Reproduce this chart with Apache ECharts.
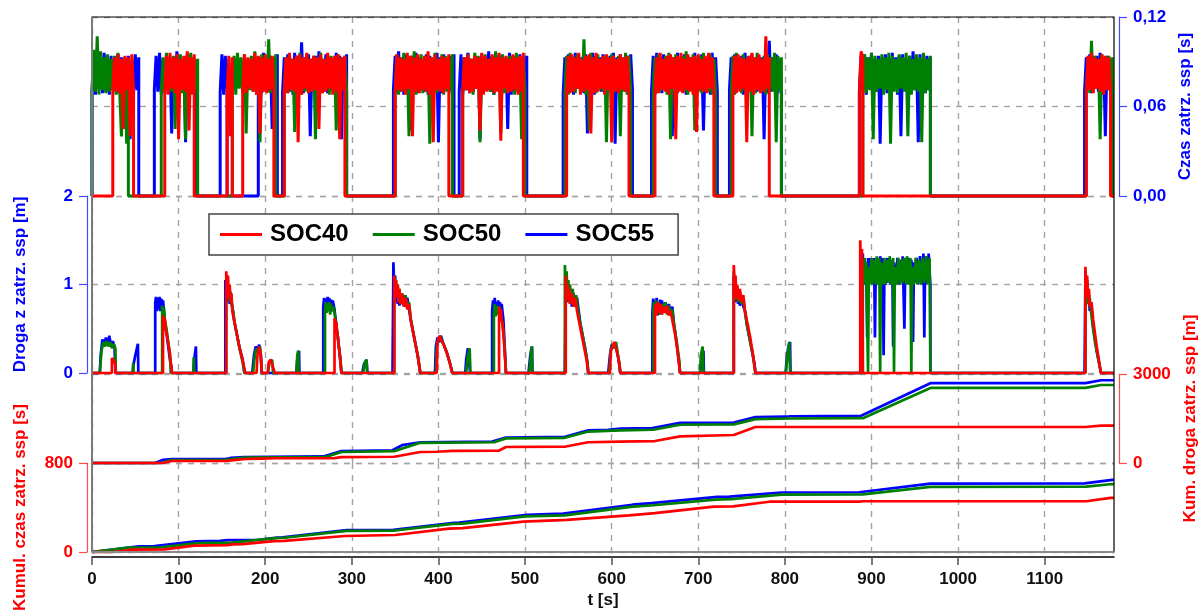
<!DOCTYPE html>
<html>
<head>
<meta charset="utf-8">
<script src="https://cdn.jsdelivr.net/npm/echarts@6/dist/echarts.min.js"></script>
<style>
html, body { margin: 0; padding: 0; background: #fff; }
#chart { width: 1204px; height: 614px; }
</style>
</head>
<body>
<div id="chart"></div>
<script>
const FONT = '"Liberation Sans", Arial, Helvetica, sans-serif';
const T_MAX = 1180;
const CZAS_STEP = 2; // seconds between samples of the stop-time signal

const tTicks = [0, 100, 200, 300, 400, 500, 600, 700, 800, 900, 1000, 1100];
const czasTicks = [0, 0.06, 0.12];
const drogaTicks = [0, 1, 2];
const kumDrogaTicks = [0, 3000];
const kumCzasTicks = [0, 800];

const seriesNames = ['SOC40', 'SOC50', 'SOC55'];
const seriesColors = { SOC40: '#ff0000', SOC50: '#008000', SOC55: '#0000ff' };

// Czas zatrz. ssp: active stretches as [start t (s), samples every CZAS_STEP s in ms]
const czasSOC55 = [
  [0,    [70,91,68,95,72,93,69,96,70,92,68,94,71,91,69,95,70,93,45,92,70,94,38,91,69,95,71,93]],
  [72,   [72,94,70,96,68,92,71,95,69,93,42,91,70,97,68,94,71,92,36,95,69,93,70,91,72]],
  [148,  [70,95,68,94,71]],
  [192,  [70,93,69,96,72,92,70,94,45,93,71,95]],
  [220,  [69,93,71,95,70,92,68,96,72,94,70,103,69,93,71,95,40,92,70,94,68,97,71,91,70,95,69,93,72,92,70,96,68,94,38,93,71,95]],
  [348,  [71,94,69,97,70,93,68,95,72,92,44,94,70,96,69,93,71,91,70,95,68,94,72,92,70,96,36,93,69,95,71,92,70,94,68,95]],
  [424,  [70,95,68,93,71,96,69,92,70,94,72,93,38,95,69,92,71,97,70,93,68,94,71,95,69,92,70,93,45,96,68,94,71,92,70,95,69,93,72,94]],
  [544,  [69,93,71,95,70,92,68,96,72,94,70,93,69,95,42,92,70,96,68,94,71,93,70,95,69,92,72,94,70,96,35,93,69,95,71,92,70,94,68,95,71]],
  [646,  [70,94,68,96,71,93,69,95,72,92,70,94,40,93,69,96,71,92,70,95,68,94,72,93,70,96,69,92,71,95,44,93,70,94,68,96,71,93,70]],
  [736,  [71,93,69,95,70,92,72,94,68,96,70,93,71,95,69,92,70,94,72,93,38,95,69,104,70,93,71,95,69,92,70]],
  [886,  [70,94,71,95,68,93,72,96,69,92,70,94,35,93,71,95,69,92,70,96,72,93,68,94,40,95,71,92,70,94,69,97,71,93,36,95,70,92,69,94,71,93]],
  [1146, [70,93,71,95,69,92,72,94,70,96,68,93,40,94,71,92,70]]
];
const czasSOC50 = [
  [0,    [72,98,70,107,68,97,71,93,69,95,70,92,72,94,68,96,70,40,69,93,35,91]],
  [80,   [70,93,69,96,72,92,70,94,45,93,71,95,69,91,38,94,70,96,68,93,71,92]],
  [162,  [70,94,68,96,72,93,69,95,42,92,71,94,70,97,68,93,36,95,71,92,70,105,69,93,72,95]],
  [222,  [71,93,69,95,70,92,43,94,71,96,68,93,70,95,69,92,72,94,38,93,70,96,69,92,71,95,68,94,70,93,44,95,69,92,71,94,70]],
  [350,  [70,95,68,93,71,96,69,92,40,94,70,97,68,93,71,95,69,92,72,94,35,93,70,96,69,92,71,95,68,94,70,93,72,95]],
  [428,  [69,93,71,95,70,92,68,96,72,94,36,93,69,95,71,92,70,94,68,97,71,93,42,95,69,92,70,94,72,93,68,96,70,92,38,94,71]],
  [546,  [70,94,68,96,71,93,69,95,72,92,70,105,68,94,44,96,70,93,69,95,71,92,70,94,36,93,72,95,69,92,71,94,40,93,70,96,68,94,70]],
  [648,  [71,93,69,95,70,92,72,94,68,96,38,93,70,95,69,92,71,94,70,97,68,93,72,95,44,92,70,94,69,96,71,93,70,95,68,92,71]],
  [738,  [70,94,68,96,72,93,69,95,71,92,70,94,40,93,69,96,71,92,70,94,68,95,72,93,70,96,36,94,71,93]],
  [890,  [70,95,69,93,71,96,38,94,70,92,72,95,68,93,71,96,35,94,70,92,69,95,72,93,70,96,40,94,68,92,71,95,70,93,36,96,69,92,71,94]],
  [1148, [71,93,69,104,70,94,72,92,38,95,69,93,71,94,70,93]]
];
const czasSOC40 = [
  [24,   [72,93,70,95,69,92,45,94,71,93,40,95,70]],
  [84,   [70,94,68,96,72,93,69,95,38,92,71,94,70,97,44,93,69,95]],
  [156,  [70,94,40,93]],
  [174,  [71,95,69,93,72,92,70,96,68,94,42,93,70,95,69,92,71,94,70]],
  [222,  [70,93,69,96,71,92,70,94,36,95,68,93,72,96,69,92,70,94,71,93,45,95,69,92,70,96,72,93,68,94,70,95,38,93,71,94]],
  [350,  [69,95,71,93,70,92,68,96,72,94,40,93,70,95,69,92,71,94,70,97,68,93,36,95,71,92,70,94,69,93,72,95]],
  [428,  [70,93,71,95,69,92,70,94,72,93,44,96,68,94,70,92,71,95,69,93,70,96,37,93,72,94,69,92,70,95,71,93,68,94,70,96]],
  [548,  [71,94,69,95,70,93,72,96,68,92,70,94,71,95,42,93,69,96,70,92,72,94,68,95,71,93,36,94,70,92,69,95,71,93,70,94,72]],
  [650,  [70,93,69,96,71,92,70,94,68,95,72,93,38,94,70,96,69,92,71,95,70,93,68,94,43,95,71,92,70,94,69,96,72,93,70]],
  [740,  [71,94,69,95,70,93,72,92,36,94,70,96,68,93,71,95,69,92,70,107,72,93]],
  [886,  [70,97,93]],
  [1148, [70,94,71,96,69,93,72,92,70,95,68,94,71,93,70]]
];

// Droga z zatrz. ssp [m]: [t (s), m]
const drogaSOC55 = [
  [0,0],[9,0],[10,0.2],[12,0.38],[14,0.3],[16,0.4],[18,0.33],[20,0.42],[22,0.3],[24,0.36],[26,0.3],[27,0],
  [47,0],[48,0.1],[50,0.2],[53,0.33],[53.5,0],
  [73,0],[73,0.8],[74,0.86],[75,0.7],[76,0.85],[77,0.72],[78,0.86],[79,0.7],[80,0.84],[81,0.75],[82,0.82],[84,0.6],[86,0.45],[88,0.3],[90,0.15],[92,0.05],[92,0],
  [117,0],[118,0.15],[120,0.3],[120.5,0],
  [154,0],[154,1.05],[155,0.85],[156,1.0],[157,0.8],[158,0.95],[159,0.78],[160,0.9],[162,0.75],[164,0.6],[167,0.45],[170,0.3],[174,0.15],[176,0],
  [185,0],[187,0.2],[189,0.3],[191,0.25],[193,0.32],[195,0.2],[196,0],
  [236,0],[237,0.15],[239,0.25],[239.5,0],
  [267,0],[267,0.75],[268,0.85],[269,0.7],[270,0.84],[271,0.72],[272,0.86],[273,0.7],[274,0.85],[275,0.73],[276,0.83],[277,0.7],[278,0.82],[280,0.72],[282,0.55],[284,0.4],[286,0.2],[288,0],
  [312,0],[314,0.1],[317,0.15],[318,0],
  [347,0],[348,1.25],[349,0.95],[350,1.1],[351,0.8],[352,0.95],[353,0.78],[354,0.92],[355,0.76],[356,0.9],[358,0.78],[360,0.88],[362,0.75],[364,0.85],[366,0.72],[368,0.6],[370,0.5],[373,0.35],[376,0.2],[379,0],
  [396,0],[397,0.3],[399,0.4],[401,0.35],[403,0.42],[405,0.35],[407,0.3],[410,0.22],[413,0.12],[416,0],
  [431,0],[432,0.15],[434,0.28],[436,0.3],[436.5,0],
  [462,0],[462,0.7],[463,0.82],[464,0.68],[465,0.85],[466,0.7],[467,0.8],[468,0.66],[469,0.82],[470,0.7],[471,0.8],[472,0.68],[473,0.78],[475,0.6],[476,0.4],[477,0.2],[478,0],
  [504,0],[506,0.2],[508,0.3],[508.5,0],
  [546,0],[547,1.1],[548,0.9],[549,1.05],[550,0.8],[551,1.0],[552,0.78],[553,0.95],[554,0.75],[556,0.9],[558,0.75],[560,0.85],[562,0.7],[564,0.55],[566,0.45],[569,0.3],[572,0.12],[573,0],
  [596,0],[598,0.2],[600,0.32],[602,0.28],[604,0.35],[606,0.25],[608,0.15],[610,0],
  [647,0],[647,0.68],[648,0.84],[649,0.66],[650,0.82],[651,0.7],[652,0.85],[653,0.65],[654,0.8],[655,0.68],[656,0.83],[657,0.7],[658,0.82],[660,0.68],[662,0.8],[664,0.7],[666,0.78],[668,0.68],[670,0.75],[672,0.55],[675,0.35],[677,0.18],[679,0],
  [702,0],[704,0.15],[706,0.25],[706.5,0],
  [741,0],[741,1.1],[742,0.9],[743,1.0],[744,0.8],[745,0.95],[746,0.78],[747,0.92],[748,0.76],[750,0.88],[752,0.75],[754,0.7],[756,0.55],[759,0.4],[762,0.25],[765,0.1],[766,0],
  [801,0],[802,0.15],[804,0.3],[806,0.35],[806.5,0],
  [888,0],[888,1.2],[889,1.0],[890,1.35],[891,1.05],[892,1.3],[893,1.0],[894,1.25],[895,0.4],[896,1.3],[897,1.0],[898,1.3],[899,1.05],[900,1.28],[902,1.0],[903,1.3],[904,0.4],[905,1.25],[906,1.0],[908,1.3],[909,1.0],[910,1.32],[912,1.0],[913,1.3],[914,0.2],[915,1.2],[916,1.0],[918,1.3],[919,1.02],[920,1.3],[922,1.0],[924,1.28],[925,0.3],[926,1.25],[928,1.0],[930,1.3],[932,1.0],[934,1.28],[935,1.02],[936,1.32],[938,0.5],[939,1.2],[940,1.0],[942,1.3],[944,1.0],[946,1.28],[948,0.35],[949,1.25],[950,1.02],[952,1.3],[954,1.0],[956,1.32],[958,1.0],[960,1.35],[961,0.4],[962,1.3],[964,1.0],[966,1.35],[968,1.0],[968,0],
  [1146,0],[1147,1.15],[1148,0.9],[1149,1.05],[1150,0.8],[1151,0.9],[1152,0.7],[1154,0.75],[1156,0.5],[1158,0.4],[1160,0.25],[1162,0.15],[1164,0.05],[1165,0],[1180,0]
];
const drogaSOC50 = [
  [0,0],[9,0],[11,0.25],[13,0.35],[15,0.3],[17,0.36],[19,0.3],[21,0.35],[23,0.28],[25,0.33],[27,0.28],[27.5,0],
  [47,0],[47.5,0.11],[48,0],
  [81,0],[81,0.76],[82,0.7],[83,0.74],[84,0.6],[86,0.5],[88,0.35],[90,0.2],[91,0],
  [117,0],[117.5,0.18],[118,0],
  [155,0],[155,0.95],[156,1.05],[157,0.85],[158,0.98],[159,0.8],[160,0.92],[161,0.78],[163,0.7],[165,0.55],[168,0.4],[171,0.25],[174,0.12],[176,0],
  [186,0],[188,0.2],[190,0.28],[192,0.22],[194,0.3],[196,0],
  [203,0],[205,0.12],[208,0.15],[209,0],
  [236,0],[237,0.2],[238,0.25],[238.5,0],
  [269,0],[269,0.7],[270,0.8],[271,0.68],[272,0.78],[273,0.7],[274,0.8],[275,0.66],[276,0.78],[277,0.7],[279,0.75],[281,0.6],[283,0.45],[285,0.3],[287,0.15],[288,0],
  [313,0],[315,0.12],[317,0.15],[317.5,0],
  [349,0],[349,1.1],[350,0.9],[351,1.05],[352,0.85],[353,1.0],[354,0.8],[355,0.95],[356,0.78],[358,0.9],[360,0.76],[362,0.88],[364,0.74],[366,0.8],[368,0.62],[371,0.45],[374,0.3],[377,0.15],[379,0],
  [397,0],[398,0.3],[400,0.38],[402,0.42],[404,0.36],[406,0.32],[409,0.25],[412,0.15],[415,0.05],[416,0],
  [432,0],[434,0.2],[436,0.28],[437,0],
  [464,0],[464,0.65],[465,0.78],[466,0.64],[467,0.76],[468,0.66],[470,0.75],[472,0.65],[474,0.55],[476,0.35],[478,0],
  [505,0],[507,0.25],[508,0.3],[508.5,0],
  [546,0],[546,1.22],[547,0.95],[548,1.15],[549,0.85],[550,1.05],[551,0.8],[552,1.0],[553,0.78],[555,0.95],[557,0.76],[559,0.88],[561,0.72],[563,0.6],[566,0.45],[569,0.3],[572,0.12],[573,0],
  [597,0],[599,0.25],[601,0.33],[603,0.28],[605,0.35],[607,0.22],[609,0.1],[610,0],
  [648,0],[648,0.7],[649,0.8],[650,0.66],[651,0.82],[652,0.68],[654,0.8],[656,0.66],[658,0.78],[660,0.7],[662,0.8],[664,0.66],[666,0.76],[668,0.68],[670,0.72],[672,0.55],[675,0.35],[678,0.15],[679,0],
  [702,0],[703,0.2],[705,0.3],[706,0],
  [741,0],[741,1.15],[742,0.92],[743,1.05],[744,0.82],[745,0.98],[746,0.8],[748,0.92],[750,0.78],[752,0.85],[754,0.68],[757,0.5],[760,0.35],[763,0.2],[766,0],
  [801,0],[803,0.2],[805,0.35],[806,0],
  [890,0],[890,1.2],[891,1.0],[892,1.3],[893,1.02],[894,1.25],[896,0],[897,1.2],[898,1.0],[900,1.3],[901,1.0],[903,1.28],[905,1.0],[906,1.32],[907,1.0],[909,1.3],[910,0],[911,1.25],[913,1.0],[915,1.3],[916,1.0],[918,1.28],[920,1.02],[921,1.32],[923,1.0],[925,1.3],[926,0],[927,1.2],[929,1.0],[931,1.3],[933,1.0],[935,1.28],[936,1.02],[938,1.3],[940,1.0],[941,1.32],[943,1.0],[945,1.3],[946,0],[947,1.2],[949,1.0],[951,1.3],[953,1.0],[955,1.28],[957,1.0],[959,1.3],[961,1.02],[963,1.32],[965,1.0],[967,1.3],[968,0],
  [1147,0],[1147,1.1],[1148,0.88],[1149,1.0],[1150,0.78],[1152,0.85],[1154,0.65],[1156,0.5],[1158,0.35],[1161,0.2],[1164,0.05],[1165,0],[1180,0]
];
const drogaSOC40 = [
  [0,0],[23,0],[23,0.17],[25,0.14],[27,0.1],[27,0],
  [82,0],[82,0.65],[83,0.58],[84,0.62],[85,0.5],[86,0.52],[87,0.4],[88,0.38],[89,0.28],[90,0.22],[91,0.12],[92,0.05],[92,0],
  [155,0],[155,1.15],[156,1.0],[157,1.1],[158,0.85],[159,1.0],[160,0.8],[161,0.9],[162,0.7],[164,0.6],[166,0.5],[168,0.4],[170,0.3],[173,0.18],[176,0.05],[177,0],
  [190,0],[191,0.2],[193,0.3],[195,0.2],[196,0],
  [203,0],[204,0.12],[206,0.15],[208,0.1],[211,0],
  [280,0],[280,0.62],[281,0.55],[282,0.58],[283,0.45],[284,0.4],[285,0.3],[286,0.22],[287,0.12],[288,0],
  [349,0],[349,1.1],[350,0.95],[351,1.05],[352,0.85],[353,1.0],[354,0.8],[355,0.95],[356,0.78],[358,0.9],[360,0.75],[362,0.85],[364,0.72],[366,0.78],[368,0.6],[370,0.5],[373,0.35],[376,0.2],[379,0],
  [398,0],[399,0.35],[401,0.42],[403,0.38],[405,0.4],[407,0.3],[410,0.22],[413,0.12],[416,0],
  [470,0],[470,0.75],[471,0.65],[472,0.72],[473,0.6],[474,0.55],[475,0.45],[476,0.3],[477,0.15],[478,0],
  [547,0],[547,1.1],[548,0.9],[549,1.0],[550,0.82],[551,0.95],[552,0.78],[554,0.9],[556,0.75],[558,0.85],[560,0.7],[562,0.6],[565,0.45],[568,0.3],[571,0.15],[573,0],
  [598,0],[599,0.25],[601,0.3],[603,0.35],[605,0.28],[607,0.2],[609,0.1],[610,0],
  [650,0],[650,0.7],[651,0.78],[652,0.65],[653,0.8],[654,0.68],[656,0.78],[658,0.66],[660,0.75],[662,0.68],[664,0.76],[666,0.65],[668,0.7],[670,0.6],[673,0.45],[676,0.25],[679,0],
  [741,0],[741,1.22],[742,1.0],[743,1.1],[744,0.85],[745,1.0],[746,0.82],[748,0.95],[750,0.8],[752,0.88],[754,0.7],[757,0.55],[760,0.4],[763,0.22],[766,0],
  [887,0],[887,1.5],[888,1.1],[889,1.4],[890,0],
  [1147,0],[1147,1.2],[1148,0.95],[1149,1.1],[1150,0.85],[1151,0.95],[1152,0.75],[1154,0.8],[1156,0.6],[1158,0.45],[1160,0.3],[1162,0.18],[1164,0.05],[1165,0],[1180,0]
];

// Kum. droga zatrz. ssp [m]: [t (s), m]
const kumDrogaSOC55 = [[0,0],[73,0],[82,110],[92,135],[154,135],[160,170],[176,200],[267,220],[288,400],[347,430],[358,600],[379,700],[462,720],[478,860],[546,880],[573,1100],[596,1120],[610,1160],[647,1180],[679,1350],[741,1360],[766,1550],[801,1560],[806,1575],[888,1590],[968,2690],[1147,2690],[1165,2790],[1180,2790]];
const kumDrogaSOC50 = [[0,0],[81,0],[91,100],[155,110],[176,180],[269,195],[288,370],[349,400],[379,680],[464,700],[478,830],[546,850],[573,1060],[610,1100],[648,1120],[679,1290],[741,1300],[766,1480],[806,1500],[890,1510],[968,2530],[1147,2530],[1165,2630],[1180,2630]];
const kumDrogaSOC40 = [[0,0],[82,0],[92,67],[155,70],[177,135],[196,150],[211,160],[280,165],[288,200],[349,210],[379,370],[398,380],[416,410],[470,420],[478,540],[547,555],[573,700],[610,720],[650,740],[679,900],[741,944],[766,1213],[1147,1213],[1165,1257],[1180,1257]];

// Kumul. czas zatrz. ssp [s]: [t (s), s]
const kumCzasSOC55 = [[0,0],[54,50],[72,52],[120,95],[148,100],[156,106],[192,110],[214,130],[220,132],[294,196],[348,200],[418,262],[424,265],[502,335],[544,345],[624,425],[646,440],[722,495],[736,498],[796,535],[886,537],[968,615],[1146,617],[1178,648],[1180,648]];
const kumCzasSOC50 = [[0,0],[42,40],[80,42],[122,80],[162,85],[212,125],[222,128],[294,190],[350,193],[416,252],[428,255],[500,320],[546,330],[622,405],[648,420],[720,470],[738,475],[796,515],[890,518],[968,585],[1148,587],[1178,611],[1180,611]];
const kumCzasSOC40 = [[0,0],[24,0],[48,22],[84,24],[118,58],[156,62],[162,68],[174,70],[210,98],[222,100],[292,144],[350,153],[412,210],[428,214],[498,273],[548,288],[620,330],[650,350],[718,408],[740,410],[782,452],[886,453],[890,456],[1148,456],[1176,486],[1180,486]];

function czasPoints(segments) {
  const pts = [[0, 0]];
  segments.forEach(([t0, samples]) => {
    const t1 = t0 + CZAS_STEP * (samples.length - 1);
    pts.push([t0, 0]);
    samples.forEach((ms, i) => pts.push([t0 + CZAS_STEP * i, ms / 1000]));
    pts.push([t1, 0]);
  });
  pts.push([T_MAX, 0]);
  return pts;
}

const panels = [
  { SOC55: czasPoints(czasSOC55), SOC50: czasPoints(czasSOC50), SOC40: czasPoints(czasSOC40) },
  { SOC55: drogaSOC55, SOC50: drogaSOC50, SOC40: drogaSOC40 },
  { SOC55: kumDrogaSOC55, SOC50: kumDrogaSOC50, SOC40: kumDrogaSOC40 },
  { SOC55: kumCzasSOC55, SOC50: kumCzasSOC50, SOC40: kumCzasSOC40 }
];

const PLOT_L = 92, PLOT_R = 1114, PLOT_T = 17, PLOT_B = 552;
const gridRows = [[17, 179], [196, 177], [374, 89], [463, 89]];
const BLUE = '#0000ff', BLUE_AX = '#4646ff', RED = '#ff0000', RED_AX = '#ff4a4a';
const gridDash = { color: '#a3a3a3', type: [6, 6], width: 1.4 };

function yAxis(gridIndex, position, ticks, color, lineColor, name, fmt) {
  return {
    type: 'value', gridIndex, position, offset: 5,
    min: ticks[0], max: ticks[ticks.length - 1], interval: ticks[1] - ticks[0],
    name, nameLocation: 'middle', nameRotate: 90, nameGap: 58,
    nameTextStyle: { color, fontSize: 17, fontWeight: 'bold', fontFamily: FONT },
    axisLine: { show: true, onZero: false, lineStyle: { color: lineColor, width: 1.2 } },
    axisTick: { show: true, length: 8, lineStyle: { color: lineColor, width: 1.2 } },
    axisLabel: { color, fontSize: 17, fontWeight: 'bold', fontFamily: FONT, margin: 14, formatter: fmt },
    splitLine: { show: true, lineStyle: gridDash }
  };
}

const xAxes = gridRows.map((r, i) => {
  const bottom = i === gridRows.length - 1;
  return {
    type: 'value', gridIndex: i, min: 0, max: T_MAX, interval: 100,
    axisLine: { show: bottom, onZero: false, lineStyle: { color: '#000', width: 1.5 } },
    offset: bottom ? 5 : 0,
    axisTick: { show: bottom, length: 8, customValues: tTicks, lineStyle: { color: '#555', width: 1.5 } },
    axisLabel: { show: bottom, customValues: tTicks, formatter: v => String(v), color: '#111', fontSize: 17, fontWeight: 'bold', fontFamily: FONT, margin: 14 },
    splitLine: { show: true, lineStyle: gridDash },
    name: bottom ? 't [s]' : '', nameLocation: 'middle', nameGap: 35,
    nameTextStyle: { color: '#111', fontSize: 17, fontWeight: 'bold', fontFamily: FONT }
  };
});

const yAxes = [
  yAxis(0, 'right', czasTicks, BLUE, BLUE_AX, 'Czas zatrz. ssp [s]', v => v.toFixed(2).replace('.', ',')),
  yAxis(1, 'left', drogaTicks, BLUE, BLUE_AX, 'Droga z zatrz. ssp [m]', v => String(v)),
  yAxis(2, 'right', kumDrogaTicks, RED, RED_AX, 'Kum. droga zatrz. ssp [m]', v => String(v)),
  yAxis(3, 'left', kumCzasTicks, RED, RED_AX, 'Kumul. czas zatrz. ssp [s]', v => String(v))
];

const drawOrder = ['SOC55', 'SOC50', 'SOC40'];
const series = [];
panels.forEach((panel, i) => {
  drawOrder.forEach(name => {
    series.push({
      name, type: 'line', xAxisIndex: i, yAxisIndex: i,
      data: panel[name], showSymbol: false, symbol: 'none', clip: false,
      color: seriesColors[name],
      itemStyle: { color: seriesColors[name] },
      lineStyle: { color: seriesColors[name], width: i === 0 ? 3 : 2.7, join: 'bevel' },
      emphasis: { disabled: true }, silent: true
    });
  });
});

const chart = echarts.init(document.getElementById('chart'), null, { renderer: 'canvas' });
chart.setOption({
  animation: false,
  backgroundColor: '#fff',
  textStyle: { fontFamily: FONT },
  grid: gridRows.map(([top, height]) => ({ left: PLOT_L, right: 1204 - PLOT_R, top, height, outerBoundsMode: 'none' })),
  xAxis: xAxes,
  yAxis: yAxes,
  legend: {
    data: seriesNames, left: 209, top: 214, icon: 'rect', itemWidth: 42, itemHeight: 3, itemGap: 24,
    padding: [8, 24, 8, 11], backgroundColor: '#fff', borderColor: '#444', borderWidth: 1.5,
    selectedMode: false,
    textStyle: { fontSize: 24, fontWeight: 'bold', color: '#000', fontFamily: FONT, lineHeight: 25, padding: [0, 0, 0, 3] }
  },
  graphic: [
    { type: 'rect', silent: true, z: 50, shape: { x: PLOT_L, y: PLOT_T, width: PLOT_R - PLOT_L, height: PLOT_B - PLOT_T }, style: { fill: 'none', stroke: '#000', lineWidth: 1.2 } },
    { type: 'line', silent: true, z: 51, shape: { x1: PLOT_L, y1: PLOT_T, x2: PLOT_L, y2: PLOT_B }, style: { stroke: '#7a7a7a', lineWidth: 2 } },
    { type: 'line', silent: true, z: 51, shape: { x1: PLOT_L, y1: PLOT_B, x2: PLOT_R, y2: PLOT_B }, style: { stroke: '#8a8a8a', lineWidth: 2 } }
  ],
  series
});
</script>
</body>
</html>
